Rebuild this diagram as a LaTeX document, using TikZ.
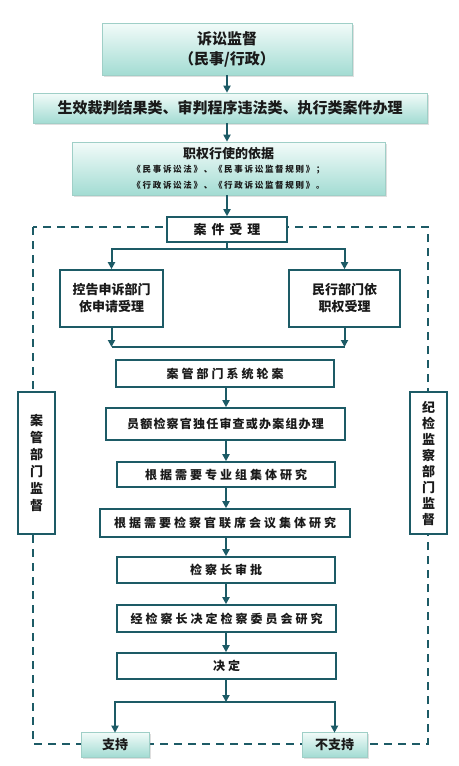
\documentclass[tikz,border=0pt]{standalone}
\usepackage{fontspec}
\setmainfont{Noto Sans CJK SC}
\usetikzlibrary{arrows.meta,shadows}
\definecolor{teal}{HTML}{1D5B66}
\definecolor{gtop}{HTML}{F2FBF9}
\definecolor{gbot}{HTML}{A3DCD3}
\definecolor{gline}{HTML}{9FCFC7}
\definecolor{txt}{HTML}{1A1A1A}
\newcommand{\fs}[1]{\fontsize{#1}{#1}\selectfont}
\newcommand{\ls}[1]{\addfontfeature{LetterSpace=#1}}
\tikzset{
  gbox/.style={draw=gline, line width=0.6pt, top color=gtop, bottom color=gbot, inner sep=0pt, align=center, text=txt,
    drop shadow={opacity=0.25, shadow xshift=1.5pt, shadow yshift=-1.5pt}},
  wbox/.style={draw=teal, line width=1.6pt, fill=white, inner sep=0pt, align=center, text=txt},
  line/.style={draw=teal, line width=2pt},
  arr/.style={line, -{Triangle[width=7pt,length=7pt]}},
  dashline/.style={draw=teal, line width=1.8pt, dash pattern=on 8pt off 6pt}
}
\begin{document}
\begin{tikzpicture}[x=1pt,y=-1pt]
\useasboundingbox (0,0) rectangle (458,766);
% dashed frame
\coordinate (f1) at (33,227);
\coordinate (f2) at (428,744);
\draw[dashline] (f1) rectangle (f2);

\node[gbox, minimum width=250, minimum height=52, font=\bfseries\fs{15}] (top) at (227,49) {诉讼监督\\[5pt]（民事/行政）};
\node[gbox, minimum width=394, minimum height=30, font=\bfseries\fs{15}] (sec) at (230,108) {生效裁判结果类、审判程序违法类、执行类案件办理};
\node[gbox, minimum width=313, minimum height=53, font=\bfseries\fs{13}] (basis) at (228.5,168.5) {职权行使的依据\\[1pt]{\fs{8.5}\ls{20}《民事诉讼法》、《民事诉讼监督规则》；}\\[3pt]{\fs{8.5}\ls{20}《行政诉讼法》、《行政诉讼监督规则》。}};

\node[wbox, minimum width=120, minimum height=25, font=\bfseries\fs{13}\ls{38}] (acc) at (227,229.5) {案件受理};
\node[wbox, minimum width=103, minimum height=57, font=\bfseries\fs{13}] (lbox) at (111.5,298.5) {控告申诉部门\\[4pt]依申请受理};
\node[wbox, minimum width=111, minimum height=57, font=\bfseries\fs{13}] (rbox) at (344.5,298.5) {民行部门依\\[4pt]职权受理};

\node[wbox, minimum width=218, minimum height=27, font=\bfseries\fs{12}\ls{25}] (b1) at (225,373.5) {案管部门系统轮案};
\node[wbox, minimum width=239, minimum height=32, font=\bfseries\fs{12}\ls{10}] (b2) at (225.5,424) {员额检察官独任审查或办案组办理};
\node[wbox, minimum width=218, minimum height=25, font=\bfseries\fs{12}\ls{25}] (b3) at (226,474.5) {根据需要专业组集体研究};
\node[wbox, minimum width=250, minimum height=28, font=\bfseries\fs{12}\ls{25}] (b4) at (225,523) {根据需要检察官联席会议集体研究};
\node[wbox, minimum width=218, minimum height=26, font=\bfseries\fs{12}\ls{25}] (b5) at (226,570) {检察长审批};
\node[wbox, minimum width=219, minimum height=27, font=\bfseries\fs{12}\ls{25}] (b6) at (226.5,618.5) {经检察长决定检察委员会研究};
\node[wbox, minimum width=219, minimum height=26, font=\bfseries\fs{12}\ls{25}] (b7) at (226.5,666) {决定};

\node[gbox, minimum width=68, minimum height=25, font=\bfseries\fs{13}] (sup) at (115,744.5) {支持};
\node[gbox, minimum width=65, minimum height=25, font=\bfseries\fs{13}] (nsup) at (334.5,744.5) {不支持};

\node[wbox, minimum width=37, minimum height=142, font=\bfseries\fontsize{13}{17}\selectfont] (lside) at (36.5,463) {案\\管\\部\\门\\监\\督};
\node[wbox, minimum width=37, minimum height=142, font=\bfseries\fontsize{13}{16}\selectfont] (rside) at (428.5,463) {纪\\检\\监\\察\\部\\门\\监\\督};

% connectors
\draw[arr] (top.south) -- (top.south |- sec.north);
\draw[arr] (sec.south -| top.south) -- (top.south |- basis.north);
\draw[arr] (basis.south -| top.south) -- (top.south |- acc.north);

\coordinate (s1) at (227,249);
\draw[line] (acc.south) -- (s1);
\draw[arr] (s1) -| (lbox.north);
\draw[arr] (s1) -| (rbox.north);

\coordinate (m1) at (111.5,347);
\coordinate (m2) at (344.5,347);
\draw[arr] (lbox.south) -- (m1);
\draw[arr] (rbox.south) -- (m2);
\draw[line] (m1) -- (m2);

\coordinate (c) at (226,0);
\draw[arr] (b1.south -| c) -- (b2.north -| c);
\draw[arr] (b2.south -| c) -- (b3.north -| c);
\draw[arr] (b3.south -| c) -- (b4.north -| c);
\draw[arr] (b4.south -| c) -- (b5.north -| c);
\draw[arr] (b5.south -| c) -- (b6.north -| c);
\draw[arr] (b6.south -| c) -- (b7.north -| c);

\coordinate (s2) at (226,702);
\draw[arr] (b7.south -| c) -- (s2);
\draw[arr] (s2) -| ([yshift=-1pt]sup.north);
\draw[arr] (s2) -| ([yshift=-1pt]nsup.north);
\end{tikzpicture}
\end{document}
